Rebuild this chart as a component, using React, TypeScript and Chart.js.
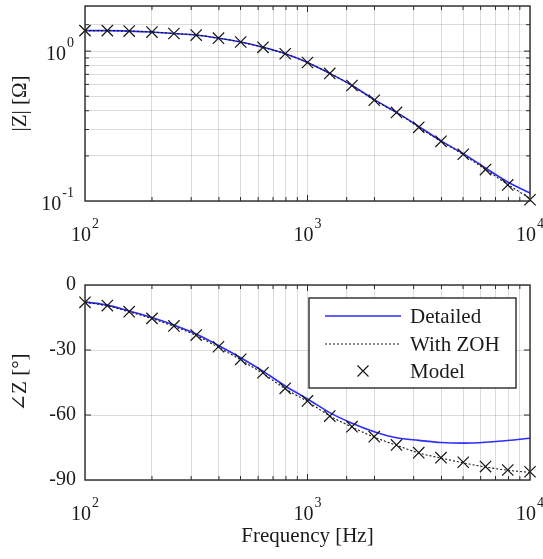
import React, { useEffect, useRef } from 'react';
import { Chart, registerables } from 'chart.js';

Chart.register(...registerables);

// ---- data ----
const freqHz = [100, 126, 158, 200, 251, 316, 398, 501, 631, 794, 1000, 1259, 1585, 1995, 2512, 3162, 3981, 5012, 6310, 7943, 10000];

const magModel = [1.37, 1.37, 1.36, 1.34, 1.31, 1.28, 1.22, 1.15, 1.06, 0.96, 0.84, 0.71, 0.59, 0.47, 0.39, 0.31, 0.25, 0.205, 0.162, 0.128, 0.102];
const magZoh = [1.37, 1.37, 1.36, 1.34, 1.31, 1.28, 1.22, 1.15, 1.06, 0.96, 0.84, 0.71, 0.59, 0.47, 0.39, 0.31, 0.25, 0.204, 0.162, 0.129, 0.104];
const magDetailed = [1.37, 1.37, 1.36, 1.34, 1.31, 1.28, 1.22, 1.15, 1.06, 0.96, 0.84, 0.71, 0.59, 0.475, 0.39, 0.315, 0.252, 0.207, 0.166, 0.134, 0.113];

const phaseModel = [-8.0, -9.5, -12.3, -15.4, -18.9, -23.1, -28.5, -34.3, -40.5, -47.7, -53.5, -60.5, -65.4, -70.0, -73.8, -77.4, -79.7, -81.8, -83.8, -85.4, -86.2];
const phaseZoh = [-8.0, -9.6, -12.4, -15.5, -19.1, -23.3, -28.8, -34.6, -40.9, -47.9, -53.8, -60.4, -65.6, -70.2, -74.0, -77.5, -79.9, -82.1, -84.0, -85.5, -86.5];
const phaseDetailed = [-7.8, -9.3, -12.0, -15.0, -18.5, -22.6, -27.9, -33.6, -39.8, -46.6, -52.6, -58.9, -63.8, -67.7, -70.5, -71.7, -72.7, -73.0, -72.6, -71.8, -70.7];

// tick labels
const freqTickExponents = [2, 3, 4]; // 10^2, 10^3, 10^4 Hz
const magTickExponents = [-1, 0]; // 10^-1, 10^0 Ohm
const phaseTickValues = [-90, -60, -30, 0];
const legendLabels = ['Detailed', 'With ZOH', 'Model'];

const magTitle = '|Z| [Ω]';
const phaseTitle = '∠Z [°]';
const freqTitle = 'Frequency [Hz]';

// ---- styles ----
const serif = '"Liberation Serif", "DejaVu Serif", serif';
const textColor = '#1a1a1a';
const gridColor = 'rgba(0,0,0,0.14)';
const blue = 'rgb(45,45,255)';
const dark = '#151515';

function isPow10(v: number): boolean {
  const e = Math.log10(v);
  return Math.abs(e - Math.round(e)) < 1e-6;
}

function drawPow(ctx: CanvasRenderingContext2D, exp: number, x: number, baseY: number, align: 'center' | 'right') {
  const base = '10';
  const sup = String(exp);
  ctx.font = `20px ${serif}`;
  const w1 = ctx.measureText(base).width;
  ctx.font = `14px ${serif}`;
  const w2 = ctx.measureText(sup).width;
  const total = w1 + 1 + w2;
  const left = align === 'center' ? x - total / 2 : x - total;
  ctx.font = `20px ${serif}`;
  ctx.fillText(base, left, baseY);
  ctx.font = `14px ${serif}`;
  ctx.fillText(sup, left + w1 + 1, baseY - 13);
}

function powTicksPlugin(yExps: number[] | null) {
  return {
    id: 'powTicks',
    afterDraw(chart: any) {
      const { ctx, chartArea: a, scales } = chart;
      ctx.save();
      ctx.fillStyle = textColor;
      ctx.textAlign = 'left';
      ctx.textBaseline = 'alphabetic';
      freqTickExponents.forEach((e) => {
        const px = scales.x.getPixelForValue(Math.pow(10, e));
        drawPow(ctx, e, px, a.bottom + 40, 'center');
      });
      if (yExps) {
        yExps.forEach((e) => {
          const py = scales.y.getPixelForValue(Math.pow(10, e));
          drawPow(ctx, e, a.left - 11, py + 9, 'right');
        });
      }
      ctx.restore();
    },
  };
}

const framePlugin = {
  id: 'frame',
  afterDatasetsDraw(chart: any) {
    const { ctx, chartArea: a, scales } = chart;
    ctx.save();
    ctx.strokeStyle = '#2a2a2a';
    ctx.lineWidth = 1.4;
    ctx.strokeRect(a.left, a.top, a.right - a.left, a.bottom - a.top);
    ctx.lineWidth = 1;
    ctx.beginPath();
    const xs = scales.x;
    xs.ticks.forEach((t: any) => {
      const px = xs.getPixelForValue(t.value);
      if (px <= a.left + 1 || px >= a.right - 1) return;
      const len = isPow10(t.value) ? 6 : 4;
      ctx.moveTo(px, a.bottom); ctx.lineTo(px, a.bottom - len);
      ctx.moveTo(px, a.top); ctx.lineTo(px, a.top + len);
    });
    const ys = scales.y;
    ys.ticks.forEach((t: any) => {
      const py = ys.getPixelForValue(t.value);
      if (py <= a.top + 1 || py >= a.bottom - 1) return;
      const len = ys.type === 'logarithmic' && !isPow10(t.value) ? 4 : 6;
      ctx.moveTo(a.left, py); ctx.lineTo(a.left + len, py);
      ctx.moveTo(a.right, py); ctx.lineTo(a.right - len, py);
    });
    ctx.stroke();
    ctx.restore();
  },
};

const legendPlugin = {
  id: 'boxLegend',
  afterDraw(chart: any) {
    const { ctx, chartArea: a } = chart;
    const w = 207, h = 90;
    const left = a.right - 14 - w;
    const top = a.top + 13;
    ctx.save();
    ctx.fillStyle = '#fff';
    ctx.fillRect(left, top, w, h);
    ctx.strokeStyle = '#2a2a2a';
    ctx.lineWidth = 1.4;
    ctx.strokeRect(left, top, w, h);
    const rows = [18, 46, 73];
    const x0 = left + 16, x1 = left + 92;
    ctx.strokeStyle = blue; ctx.lineWidth = 1.6; ctx.setLineDash([]);
    ctx.beginPath(); ctx.moveTo(x0, top + rows[0]); ctx.lineTo(x1, top + rows[0]); ctx.stroke();
    ctx.strokeStyle = dark; ctx.lineWidth = 1.1; ctx.setLineDash([2, 2]);
    ctx.beginPath(); ctx.moveTo(x0, top + rows[1]); ctx.lineTo(x1, top + rows[1]); ctx.stroke();
    ctx.setLineDash([]);
    const cx = (x0 + x1) / 2, cy = top + rows[2], r = 5.5;
    ctx.lineWidth = 1.1;
    ctx.beginPath();
    ctx.moveTo(cx - r, cy - r); ctx.lineTo(cx + r, cy + r);
    ctx.moveTo(cx - r, cy + r); ctx.lineTo(cx + r, cy - r);
    ctx.stroke();
    ctx.fillStyle = textColor;
    ctx.font = `21px ${serif}`;
    ctx.textBaseline = 'middle';
    ctx.textAlign = 'left';
    legendLabels.forEach((lbl, i) => ctx.fillText(lbl, left + 101, top + rows[i] + 1));
    ctx.restore();
  },
};

function xScale(height: number, withTitle: boolean) {
  return {
    type: 'logarithmic',
    min: 100,
    max: 10000,
    border: { display: false },
    grid: { color: gridColor, lineWidth: 1, drawTicks: false },
    ticks: { display: false, autoSkip: false, maxRotation: 0, minRotation: 0 },
    title: withTitle
      ? { display: true, text: freqTitle, color: textColor, font: { family: serif, size: 21 }, padding: { top: 0, bottom: 10 } }
      : { display: false },
    afterFit: (s: any) => {
      s.height = height;
      s.paddingLeft = 0;
      s.paddingRight = 0;
    },
  };
}

function yTitle(text: string) {
  return { display: true, text, color: textColor, font: { family: serif, size: 21 }, padding: { top: 8, bottom: 0 } };
}

function pts(ys: number[]) {
  return freqHz.map((f, i) => ({ x: f, y: ys[i] }));
}

function datasets(model: number[], zoh: number[], detailed: number[]) {
  return [
    {
      label: legendLabels[2],
      data: pts(model),
      showLine: false,
      pointStyle: 'crossRot',
      pointRadius: 8,
      pointBorderWidth: 1.2,
      pointBorderColor: dark,
      borderColor: dark,
      backgroundColor: 'transparent',
    },
    {
      label: legendLabels[1],
      data: pts(zoh),
      borderColor: dark,
      borderWidth: 1.1,
      borderDash: [2, 2],
      pointRadius: 0,
      cubicInterpolationMode: 'monotone',
      fill: false,
    },
    {
      label: legendLabels[0],
      data: pts(detailed),
      borderColor: blue,
      borderWidth: 1.6,
      pointRadius: 0,
      cubicInterpolationMode: 'monotone',
      fill: false,
    },
  ];
}

export default function App() {
  const topRef = useRef<HTMLCanvasElement>(null);
  const botRef = useRef<HTMLCanvasElement>(null);

  useEffect(() => {
    const common = {
      responsive: false,
      animation: false,
      devicePixelRatio: 1,
      plugins: { legend: { display: false }, tooltip: { enabled: false } },
      clip: false,
    };

    const top = new Chart(topRef.current as HTMLCanvasElement, {
      type: 'line',
      data: { datasets: datasets(magModel, magZoh, magDetailed) as any },
      options: {
        ...common,
        layout: { autoPadding: false, padding: { left: 0, right: 13, top: 6, bottom: 0 } },
        scales: {
          x: xScale(69, false) as any,
          y: {
            type: 'logarithmic',
            min: 0.1,
            max: 2,
            border: { display: false },
            grid: { color: gridColor, lineWidth: 1, drawTicks: false },
            ticks: { display: false, autoSkip: false },
            title: yTitle(magTitle),
            afterFit: (s: any) => { s.width = 85; s.paddingTop = 0; s.paddingBottom = 0; },
          } as any,
        },
      } as any,
      plugins: [framePlugin, powTicksPlugin(magTickExponents)],
    });

    const bot = new Chart(botRef.current as HTMLCanvasElement, {
      type: 'line',
      data: { datasets: datasets(phaseModel, phaseZoh, phaseDetailed) as any },
      options: {
        ...common,
        layout: { autoPadding: false, padding: { left: 0, right: 13, top: 15, bottom: 0 } },
        scales: {
          x: xScale(79, true) as any,
          y: {
            type: 'linear',
            min: phaseTickValues[0],
            max: phaseTickValues[phaseTickValues.length - 1],
            border: { display: false },
            grid: { color: gridColor, lineWidth: 1, drawTicks: false },
            afterBuildTicks: (s: any) => { s.ticks = phaseTickValues.map((v) => ({ value: v })); },
            ticks: {
              autoSkip: false,
              padding: 9,
              color: textColor,
              font: { family: serif, size: 20 },
              callback: (v: any) => String(v),
            },
            title: yTitle(phaseTitle),
            afterFit: (s: any) => { s.width = 85; s.paddingTop = 0; s.paddingBottom = 0; },
          } as any,
        },
      } as any,
      plugins: [framePlugin, legendPlugin, powTicksPlugin(null)],
    });

    return () => {
      top.destroy();
      bot.destroy();
    };
  }, []);

  return (
    <div style={{ position: 'absolute', left: 0, top: 0, width: 543, height: 559, background: '#fff' }}>
      <canvas ref={topRef} width={543} height={270} style={{ position: 'absolute', left: 0, top: 0, width: 543, height: 270 }} />
      <canvas ref={botRef} width={543} height={289} style={{ position: 'absolute', left: 0, top: 270, width: 543, height: 289 }} />
    </div>
  );
}
